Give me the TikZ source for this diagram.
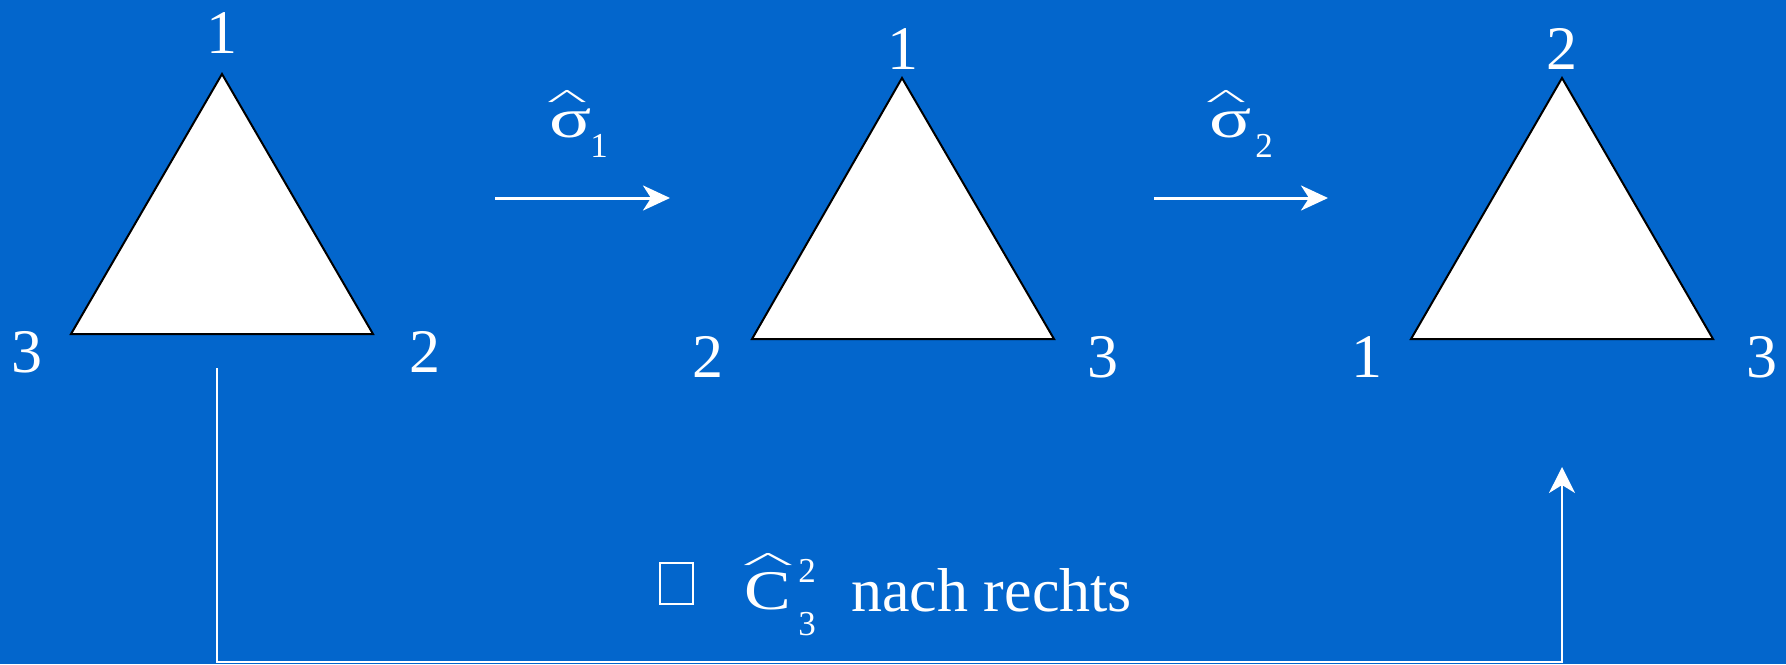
\documentclass[tikz,border=0pt]{standalone}
\usepackage{fontspec}
\setmainfont{Liberation Serif}
\usetikzlibrary{arrows.meta}
\definecolor{bgblue}{RGB}{3,102,204}
\newcommand\labfont{\fontsize{31}{36}\selectfont}
\newcommand\sigfont{\fontsize{28}{32}\selectfont}
\newcommand\subfont{\fontsize{17.5}{20}\selectfont}
\newcommand\hatfont{\fontsize{13}{15}\selectfont}
\begin{document}
\begin{tikzpicture}[x=0.5pt,y=-0.5pt,
  tri/.style={draw=black,fill=white,line width=1pt,line join=miter},
  txt/.style={text=white,inner sep=0pt,anchor=base},
  hatmark/.style={text=white,inner sep=0pt,anchor=north,font=\hatfont},
  maparrow/.style={draw=white,line width=1.5pt,-{Stealth[length=13.5pt,width=12.5pt,inset=4pt]}},
  loopline/.style={draw=white,line width=1pt,-{Stealth[length=13pt,width=13pt,inset=4pt]}}]
\fill[bgblue] (0,0) rectangle (1786,664);
\useasboundingbox (0,0) rectangle (1786,664);
% triangle 1
\coordinate (a1) at (222,74); \coordinate (b1) at (71,334); \coordinate (c1) at (373,334);
\draw[tri] (a1) -- (c1) -- (b1) -- cycle;
\node[txt,font=\labfont] (la1) at (222,53) {1};
\node[txt,font=\labfont] (lb1) at (27,372) {3};
\node[txt,font=\labfont] (lc1) at (425,372) {2};
% triangle 2
\coordinate (a2) at (902,78); \coordinate (b2) at (752,339); \coordinate (c2) at (1054,339);
\draw[tri] (a2) -- (c2) -- (b2) -- cycle;
\node[txt,font=\labfont] (la2) at (903,69) {1};
\node[txt,font=\labfont] (lb2) at (708,377) {2};
\node[txt,font=\labfont] (lc2) at (1103,377) {3};
% triangle 3
\coordinate (a3) at (1562,78); \coordinate (b3) at (1411,339); \coordinate (c3) at (1713,339);
\draw[tri] (a3) -- (c3) -- (b3) -- cycle;
\node[txt,font=\labfont] (la3) at (1562,69) {2};
\node[txt,font=\labfont] (lb3) at (1367,377) {1};
\node[txt,font=\labfont] (lc3) at (1762,377) {3};
% arrows
\coordinate (s1) at (495,198); \coordinate (e1) at (670,198);
\draw[maparrow] (s1) -- (e1);
\coordinate (s2) at (1154,198); \coordinate (e2) at (1328,198);
\draw[maparrow] (s2) -- (e2);
% sigma labels
\node[txt,font=\sigfont,xscale=1.4] (sg1) at (571,137) {σ};
\node[hatmark,xscale=3.3] (h1) at (567,90) {\textasciicircum};
\node[txt,font=\subfont] (sb1) at (599,157) {1};
\node[txt,font=\sigfont,xscale=1.4] (sg2) at (1231,137) {σ};
\node[hatmark,xscale=3.3] (h2) at (1226,90) {\textasciicircum};
\node[txt,font=\subfont] (sb2) at (1264,157) {2};
% bottom connector
\coordinate (cs) at (217,368);
\coordinate (bl) at (217,662);
\coordinate (br) at (1562,662);
\coordinate (ce) at (1562,467);
\draw[loopline] (cs) -- (bl) -- (br) -- (ce);
% bottom text
\node[draw=white,line width=0.8pt,minimum width=16.5pt,minimum height=20.5pt,inner sep=0pt] (bx) at (676.5,583.5) {};
\node[txt,font=\sigfont,xscale=1.25] (cc) at (768,609) {C};
\node[hatmark,xscale=4.2] (h3) at (768,553) {\textasciicircum};
\node[txt,font=\subfont] (csup) at (807,582) {2};
\node[txt,font=\subfont] (csub) at (807,635) {3};
\node[txt,font=\labfont,anchor=base west] (nr) at (851,611) {nach rechts};
\end{tikzpicture}
\end{document}
